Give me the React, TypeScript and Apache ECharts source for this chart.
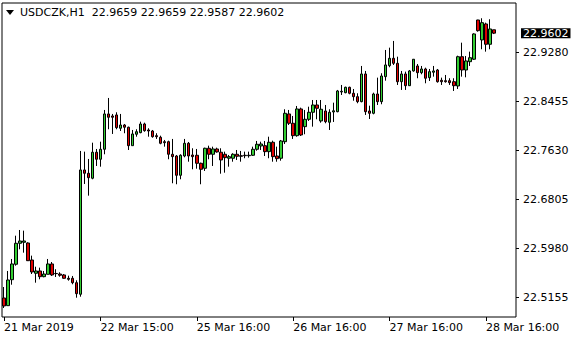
import React, { useEffect, useRef } from "react";
import * as echarts from "echarts";

const symbolName = "USDCZK,H1";
const tickLabels = ["21 Mar 2019", "22 Mar 15:00", "25 Mar 16:00", "26 Mar 16:00", "27 Mar 16:00", "28 Mar 16:00"];
const tickIndices = [0, 24, 48, 72, 96, 120];
const priceTicks = [22.5155, 22.598, 22.6805, 22.763, 22.8455, 22.928];
const slotCount = 128;

const opens = [
  22.5143, 22.5014, 22.5451, 22.5711, 22.6064, 22.6081, 22.6069, 22.5783, 22.5559, 22.5598,
  22.5502, 22.5542, 22.5716, 22.5556, 22.5547, 22.5531, 22.5475, 22.5475, 22.5401, 22.5206,
  22.7299, 22.7243, 22.7159, 22.7597, 22.7479, 22.7647, 22.8242, 22.8208, 22.8225, 22.8001,
  22.8056, 22.8018, 22.7708, 22.79, 22.7927, 22.8073, 22.7972, 22.7955, 22.7876, 22.7849,
  22.7775, 22.7775, 22.7563, 22.7534, 22.7209, 22.7534, 22.7748, 22.7551, 22.7546, 22.7411,
  22.7327, 22.7664, 22.7563, 22.7652, 22.7597, 22.7563, 22.7496, 22.7496, 22.7563, 22.7539,
  22.7546, 22.7539, 22.7546, 22.7647, 22.7703, 22.7708, 22.7607, 22.7765, 22.7534, 22.7496,
  22.7775, 22.8242, 22.8085, 22.7876, 22.8326, 22.8028, 22.8152, 22.827, 22.8393, 22.8124,
  22.8292, 22.8102, 22.8275, 22.828, 22.8612, 22.86, 22.8691, 22.859, 22.8533, 22.8449,
  22.8915, 22.8292, 22.8253, 22.8578, 22.8449, 22.887, 22.9055, 22.9179, 22.9095, 22.8785,
  22.8915, 22.8718, 22.8966, 22.905, 22.8937, 22.8999, 22.8853, 22.8944, 22.8982, 22.8809,
  22.8802, 22.8802, 22.8785, 22.8713, 22.9206, 22.8982, 22.9122, 22.9163, 22.9824, 22.9488,
  22.9757, 22.9415, 22.9659,
];
const highs = [
  22.5328, 22.5598, 22.58, 22.6192, 22.6288, 22.6277, 22.6081, 22.5856, 22.567, 22.5654,
  22.5598, 22.58, 22.5749, 22.5627, 22.5576, 22.5547, 22.5519, 22.5514, 22.5441, 22.7619,
  22.7607, 22.7484, 22.7758, 22.7652, 22.7775, 22.8309, 22.8511, 22.8242, 22.827, 22.8242,
  22.8073, 22.8028, 22.7972, 22.7984, 22.8112, 22.8095, 22.8001, 22.7972, 22.7917, 22.7876,
  22.7804, 22.7792, 22.7821, 22.7551, 22.7563, 22.7821, 22.777, 22.7664, 22.7652, 22.7422,
  22.7674, 22.7708, 22.7691, 22.7674, 22.7664, 22.7607, 22.7551, 22.758, 22.7635, 22.7619,
  22.7607, 22.7607, 22.7691, 22.7787, 22.7775, 22.7787, 22.7859, 22.7792, 22.7691, 22.7804,
  22.8321, 22.8309, 22.8208, 22.8376, 22.8348, 22.8309, 22.8364, 22.8477, 22.8477, 22.8477,
  22.8393, 22.8321, 22.8432, 22.8646, 22.873, 22.8701, 22.8701, 22.8662, 22.859, 22.905,
  22.8966, 22.8381, 22.86, 22.8853, 22.8927, 22.9319, 22.9358, 22.9471, 22.9206, 22.8966,
  22.8954, 22.8982, 22.9166, 22.9083, 22.905, 22.9021, 22.8999, 22.905, 22.8999, 22.8853,
  22.8898, 22.8843, 22.8843, 22.9223, 22.9442, 22.9218, 22.9291, 22.96, 22.9827, 22.9853,
  22.9779, 22.9836, 22.9659,
];
const lows = [
  22.4975, 22.5009, 22.5367, 22.5687, 22.5963, 22.5906, 22.5766, 22.5547, 22.5401, 22.5458,
  22.5492, 22.5542, 22.5514, 22.5497, 22.5502, 22.5468, 22.5435, 22.5374, 22.5148, 22.5165,
  22.7063, 22.6866, 22.7142, 22.7366, 22.7354, 22.7563, 22.7984, 22.7905, 22.7984, 22.7955,
  22.7917, 22.7635, 22.7708, 22.7859, 22.7917, 22.7943, 22.7859, 22.7842, 22.7821, 22.7731,
  22.7691, 22.7479, 22.7075, 22.7058, 22.7142, 22.7512, 22.7438, 22.731, 22.732, 22.7058,
  22.7282, 22.7479, 22.7366, 22.759, 22.7236, 22.7253, 22.7354, 22.7438, 22.7467, 22.7438,
  22.7496, 22.7506, 22.7534, 22.7623, 22.7635, 22.7534, 22.7496, 22.7438, 22.7438, 22.7455,
  22.7736, 22.8056, 22.7821, 22.7859, 22.7871, 22.79, 22.8124, 22.8028, 22.8152, 22.8095,
  22.8085, 22.7972, 22.8107, 22.827, 22.8561, 22.859, 22.8573, 22.8465, 22.8422, 22.8438,
  22.8225, 22.8157, 22.8236, 22.8393, 22.8405, 22.8802, 22.9028, 22.9067, 22.873, 22.8646,
  22.8646, 22.8713, 22.8954, 22.8843, 22.891, 22.8758, 22.8797, 22.887, 22.8769, 22.873,
  22.8769, 22.873, 22.8629, 22.8662, 22.887, 22.8859, 22.905, 22.9151, 22.9627, 22.9331,
  22.9291, 22.9331, 22.9587,
];
const closes = [
  22.5009, 22.5446, 22.5716, 22.6064, 22.6103, 22.6103, 22.5771, 22.5581, 22.5598, 22.5502,
  22.5547, 22.5716, 22.5531, 22.5553, 22.5526, 22.5475, 22.5458, 22.5401, 22.5216, 22.7299,
  22.7243, 22.7169, 22.7597, 22.7479, 22.7647, 22.8242, 22.8186, 22.8186, 22.8011, 22.8056,
  22.8018, 22.7708, 22.7905, 22.7943, 22.8073, 22.796, 22.7955, 22.7859, 22.7859, 22.7748,
  22.7758, 22.7563, 22.7523, 22.7209, 22.7546, 22.7748, 22.7534, 22.7523, 22.7411, 22.731,
  22.7664, 22.7563, 22.7652, 22.7602, 22.7467, 22.7506, 22.7523, 22.7563, 22.7529, 22.7529,
  22.7539, 22.7546, 22.7647, 22.7731, 22.7736, 22.7607, 22.7765, 22.7523, 22.7489, 22.7787,
  22.8253, 22.8085, 22.7876, 22.8326, 22.7888, 22.8152, 22.827, 22.8393, 22.8337, 22.8321,
  22.8112, 22.827, 22.8295, 22.8629, 22.8624, 22.8691, 22.859, 22.8533, 22.8449, 22.8915,
  22.828, 22.8253, 22.8578, 22.8449, 22.8881, 22.9067, 22.9179, 22.9095, 22.8785, 22.8915,
  22.8718, 22.8966, 22.9163, 22.8937, 22.8999, 22.8843, 22.8954, 22.8966, 22.8785, 22.8785,
  22.8785, 22.8769, 22.8718, 22.9206, 22.8982, 22.9134, 22.9189, 22.9589, 22.9644, 22.9779,
  22.9415, 22.9673, 22.9602,
];

const FONT = "DejaVu Sans";

export default function App() {
  const ref = useRef<HTMLDivElement>(null);
  useEffect(() => {
    if (!ref.current) return;
    const chart = echarts.init(ref.current, null, { renderer: "svg" });
    const last = opens.length - 1;
    const cats = Array.from({ length: slotCount }, (_, i) => String(i));
    const candles = opens.map((o, i) => [o, closes[i], lows[i], highs[i]]);
    const labelMap: Record<string, string> = {};
    tickIndices.forEach((idx, k) => (labelMap[String(idx)] = tickLabels[k]));
    const header = `${symbolName}  ${opens[last].toFixed(4)} ${highs[last].toFixed(4)} ${lows[last].toFixed(4)} ${closes[last].toFixed(4)}`;

    chart.setOption({
      animation: false,
      backgroundColor: "#ffffff",
      grid: {
        left: 2,
        top: 3,
        right: 64,
        bottom: 23,
        show: true,
        borderColor: "#000",
        borderWidth: 1,
        backgroundColor: "transparent",
      },
      xAxis: {
        type: "category",
        data: cats,
        boundaryGap: true,
        axisLine: { show: false },
        axisTick: {
          show: true,
          alignWithLabel: true,
          length: 4,
          interval: (index: number) => tickIndices.includes(index),
          lineStyle: { color: "#000", width: 1 },
        },
        axisLabel: {
          interval: (index: number) => tickIndices.includes(index),
          formatter: (v: string) => labelMap[v] ?? "",
          align: "left",
          margin: 5,
          color: "#000",
          fontFamily: FONT,
          fontSize: 11,
        },
        splitLine: { show: false },
      },
      yAxis: {
        type: "value",
        position: "right",
        min: 22.4823,
        max: 23.011,
        scale: true,
        axisLine: { show: false },
        axisTick: {
          show: true,
          length: 3,
          customValues: priceTicks,
          lineStyle: { color: "#000", width: 1 },
        },
        axisLabel: {
          customValues: priceTicks,
          formatter: (v: number) => v.toFixed(4),
          margin: 7,
          color: "#000",
          fontFamily: FONT,
          fontSize: 11,
        },
        splitLine: { show: false },
      },
      series: [
        {
          type: "candlestick",
          data: candles,
          barWidth: 3,
          itemStyle: {
            color: "#32cd32",
            color0: "#e00000",
            borderColor: "#000",
            borderColor0: "#000",
            borderWidth: 1,
          },
          markLine: {
            silent: true,
            symbol: ["none", "none"],
            data: [{ yAxis: closes[last] }],
            lineStyle: { width: 0, color: "rgba(0,0,0,0)" },
            label: {
              show: true,
              position: "end",
              distance: 5,
              formatter: closes[last].toFixed(4),
              backgroundColor: "#000",
              color: "#fff",
              padding: [0, 2, 0, 2],
              lineHeight: 10,
              fontFamily: FONT,
              fontSize: 11,
            },
          },
        },
      ],
      graphic: [
        {
          type: "polygon",
          shape: { points: [[6, 10], [14, 10], [10, 15]] },
          style: { fill: "#000" },
        },
        {
          type: "text",
          left: 20,
          top: 7,
          style: { text: header, fill: "#000", font: `11px "${FONT}"` },
        },
      ],
    });
    return () => chart.dispose();
  }, []);
  return <div ref={ref} style={{ position: "absolute", left: 0, top: 0, width: 580, height: 340 }} />;
}
